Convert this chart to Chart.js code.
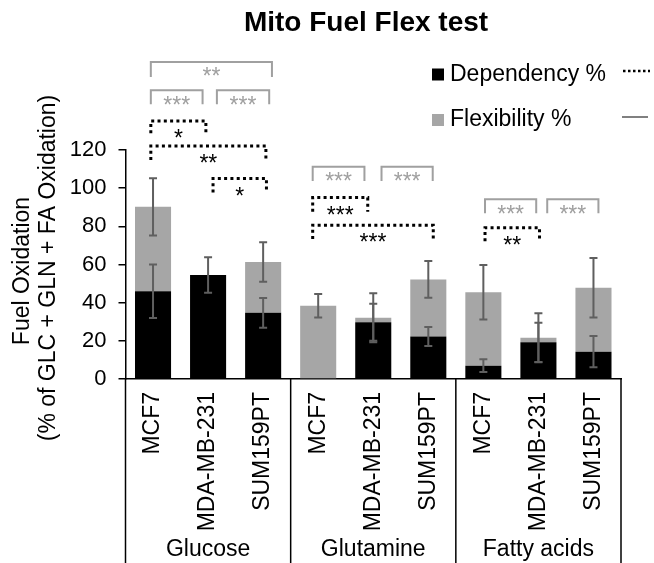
<!DOCTYPE html>
<html><head><meta charset="utf-8">
<script src="https://cdn.jsdelivr.net/npm/chart.js@4.4.1/dist/chart.umd.min.js"></script>
<style>html,body{margin:0;padding:0;background:#fff}canvas{display:block}</style>
</head><body>
<canvas id="c" width="654" height="563"></canvas>
<script>
// ---- data ----
const cellLines = ['MCF7','MDA-MB-231','SUM159PT','MCF7','MDA-MB-231','SUM159PT','MCF7','MDA-MB-231','SUM159PT'];
const fuels = ['Glucose','Glutamine','Fatty acids'];
const dependency = [46.0, 54.5, 34.7, 0, 29.7, 22.3, 7.0, 19.2, 14.3];
const flexibility = [44.2, 0, 26.6, 38.4, 2.4, 29.9, 38.5, 2.4, 33.5];
const dependencyErr = [14.0, 9.3, 7.8, 0, 9.7, 5.0, 3.3, 10.3, 8.2];
const totalErr = [15.0, 0, 10.4, 6.2, 12.8, 9.6, 14.3, 12.8, 15.6];
const yTicks = [0, 20, 40, 60, 80, 100, 120];
const yTitle = ['Fuel Oxidation', '(% of GLC + GLN + FA Oxidation)'];
const chartTitle = 'Mito Fuel Flex test';
// significance brackets: [from index, to index, top value, bottom value, label]
const flexSig = [
  [-0.04, 2.16, 166.1, 158.3, '**'],
  [-0.04, 0.90, 151.3, 144.0, '***'],
  [1.16, 2.11, 151.3, 144.0, '***'],
  [2.90, 3.84, 111.2, 103.8, '***'],
  [4.15, 5.08, 111.2, 103.8, '***'],
  [6.03, 6.96, 94.2, 86.8, '***'],
  [7.16, 8.09, 94.2, 86.8, '***']
];
const depSig = [
  [-0.04, 0.96, 135.2, 128.8, '*'],
  [-0.04, 2.05, 122.1, 114.7, '**'],
  [1.09, 2.06, 105.1, 97.7, '*'],
  [2.90, 3.90, 95.1, 87.6, '***'],
  [2.90, 5.09, 80.6, 73.3, '***'],
  [6.03, 7.02, 79.2, 72.2, '**']
];

const FONT = '"Liberation Sans", Arial, sans-serif';
Chart.defaults.font.family = FONT;
Chart.defaults.color = '#000';
const GRAY = '#a6a6a6';
const BRACKET_GRAY = '#a0a0a0';

const errorBars = {
  id: 'errorBars',
  afterDatasetsDraw(chart) {
    const { ctx, scales: { x, y } } = chart;
    ctx.save();
    ctx.strokeStyle = '#5f5f5f';
    ctx.lineWidth = 2;
    const draw = (i, v, e) => {
      const px = x.getPixelForValue(i);
      const t = y.getPixelForValue(v + e), b = y.getPixelForValue(v - e);
      ctx.beginPath();
      ctx.moveTo(px, t); ctx.lineTo(px, b);
      ctx.moveTo(px - 4, t); ctx.lineTo(px + 4, t);
      ctx.moveTo(px - 4, b); ctx.lineTo(px + 4, b);
      ctx.stroke();
    };
    cellLines.forEach((_, i) => {
      if (dependencyErr[i] > 0) draw(i, dependency[i], dependencyErr[i]);
      if (totalErr[i] > 0) draw(i, dependency[i] + flexibility[i], totalErr[i]);
    });
    ctx.restore();
  }
};

const annot = {
  id: 'annot',
  afterDraw(chart) {
    const { ctx, chartArea: a, scales: { x, y } } = chart;
    const H = chart.height;
    ctx.save();
    // separators below axis
    ctx.strokeStyle = '#000';
    ctx.lineWidth = 1.5;
    const step = (a.right - a.left) / cellLines.length;
    [0, 3, 6, 9].forEach(k => {
      const px = a.left + k * step;
      ctx.beginPath(); ctx.moveTo(px, a.bottom); ctx.lineTo(px, H); ctx.stroke();
    });
    // group labels
    ctx.fillStyle = '#000';
    ctx.font = '23px ' + FONT;
    ctx.textAlign = 'center';
    ctx.textBaseline = 'middle';
    fuels.forEach((f, g) => {
      ctx.fillText(f, a.left + (g * 3 + 1.5) * step, 550);
    });
    // title
    ctx.font = 'bold 28px ' + FONT;
    ctx.fillText(chartTitle, 366, 23);
    // y title
    ctx.font = '23px ' + FONT;
    ctx.save();
    ctx.translate(22.5, 271);
    ctx.rotate(-Math.PI / 2);
    ctx.fillText(yTitle[0], 0, 0);
    ctx.restore();
    ctx.save();
    ctx.translate(49, 268);
    ctx.rotate(-Math.PI / 2);
    ctx.fillText(yTitle[1], 0, 0);
    ctx.restore();
    // legend
    ctx.textAlign = 'left';
    ctx.fillStyle = '#000';
    ctx.fillRect(432, 68.5, 12, 12);
    ctx.fillText('Dependency %', 450, 75);
    ctx.fillStyle = GRAY;
    ctx.fillRect(432, 114, 12, 12);
    ctx.fillStyle = '#000';
    ctx.fillText('Flexibility %', 450, 120);
    ctx.strokeStyle = '#000';
    ctx.lineWidth = 2.5;
    ctx.setLineDash([2.5, 2.5]);
    ctx.beginPath(); ctx.moveTo(623, 71); ctx.lineTo(650, 71); ctx.stroke();
    ctx.setLineDash([]);
    ctx.strokeStyle = '#808080';
    ctx.lineWidth = 2;
    ctx.beginPath(); ctx.moveTo(622, 117); ctx.lineTo(648, 117); ctx.stroke();
    // brackets
    const bracket = (b, dotted) => {
      const x1 = x.getPixelForValue(b[0]), x2 = x.getPixelForValue(b[1]);
      const t = y.getPixelForValue(b[2]), bt = y.getPixelForValue(b[3]);
      ctx.beginPath();
      ctx.moveTo(x1, bt); ctx.lineTo(x1, t); ctx.lineTo(x2, t); ctx.lineTo(x2, bt);
      ctx.stroke();
      ctx.font = '23px ' + FONT;
      ctx.textAlign = 'center';
      ctx.textBaseline = 'alphabetic';
      const cy = t + (dotted ? 12 : 9);
      ctx.fillText(b[4], (x1 + x2) / 2, cy + 13.3);
    };
    ctx.setLineDash([]);
    ctx.strokeStyle = BRACKET_GRAY;
    ctx.fillStyle = BRACKET_GRAY;
    ctx.lineWidth = 2;
    flexSig.forEach(b => bracket(b, false));
    ctx.strokeStyle = '#000';
    ctx.fillStyle = '#000';
    ctx.lineWidth = 3;
    depSig.forEach(b => { ctx.setLineDash([3, 3.3]); bracket(b, true); });
    ctx.restore();
  }
};

new Chart(document.getElementById('c'), {
  type: 'bar',
  data: {
    labels: cellLines,
    datasets: [
      { label: 'Dependency %', data: dependency, backgroundColor: '#000', borderWidth: 0, barPercentage: 0.655, categoryPercentage: 1 },
      { label: 'Flexibility %', data: flexibility, backgroundColor: GRAY, borderWidth: 0, barPercentage: 0.655, categoryPercentage: 1 }
    ]
  },
  options: {
    responsive: false,
    animation: false,
    devicePixelRatio: 1,
    layout: { padding: { top: 150, right: 33, bottom: 0, left: 0 } },
    plugins: { legend: { display: false }, tooltip: { enabled: false }, title: { display: false } },
    scales: {
      x: {
        stacked: true,
        grid: { display: false, drawTicks: false },
        border: { display: true, color: '#000', width: 1.5 },
        ticks: { autoSkip: false, maxRotation: 90, minRotation: 90, padding: 13, color: '#000', font: { size: 23 } },
        afterFit(s) { s.height = 184; }
      },
      y: {
        stacked: true,
        min: 0, max: 120,
        afterBuildTicks(s) { s.ticks = yTicks.map(v => ({ value: v })); },
        grid: { drawOnChartArea: false, drawTicks: true, tickLength: 7, color: '#000', lineWidth: 1.5 },
        border: { display: true, color: '#000', width: 1.5 },
        ticks: { padding: 12, color: '#000', font: { size: 22 } },
        afterFit(s) { s.width = 125.5; }
      }
    }
  },
  plugins: [errorBars, annot]
});
</script>
</body></html>
